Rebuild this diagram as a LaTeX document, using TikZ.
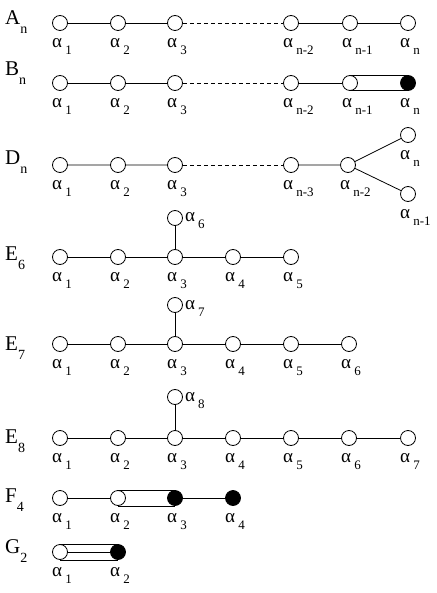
\documentclass[tikz,border=0pt]{standalone}
\usepackage{fontspec}
\setmainfont{Liberation Serif}
\newcommand{\rt}[1]{α\,\raisebox{-7pt}{\fontsize{13}{13}\selectfont #1}}
\newcommand{\typ}[2]{#1\raisebox{-9pt}{\fontsize{14}{14}\selectfont #2}}
\tikzset{
	root/.style={circle,draw,fill=white,minimum size=15pt,inner sep=0pt,line width=0.8pt},
	dark/.style={root,fill=black},
	lab/.style={anchor=north west,xshift=-8pt,yshift=-7pt,inner sep=0pt,font=\fontsize{19}{19}\selectfont},
	labr/.style={anchor=base west,xshift=2pt,yshift=-4pt,inner sep=0pt,font=\fontsize{19}{19}\selectfont},
	typename/.style={anchor=base west,inner sep=0pt,font=\fontsize{21}{21}\selectfont},
	bond/.style={line width=0.8pt},
	gap/.style={bond,dash pattern=on 4pt off 3pt}
}

\begin{document}
\begin{tikzpicture}[x=1pt,y=-1pt]
	\useasboundingbox (0,0) rectangle (436,593);

	% A_n
	\node[typename] (tA) at (5,25) {\typ{A}{n}};
	\node[root,label={[lab]below:\rt{1}}] (a1) at (60,23) {};
	\node[root,label={[lab]below:\rt{2}}] (a2) at (118,23) {};
	\node[root,label={[lab]below:\rt{3}}] (a3) at (175,23) {};
	\node[root,label={[lab]below:\rt{n-2}}] (a4) at (291,23) {};
	\node[root,label={[lab]below:\rt{n-1}}] (a5) at (350,23) {};
	\node[root,label={[lab]below:\rt{n}}] (a6) at (408,23) {};
	\draw[bond] (a1) -- (a2) (a2) -- (a3) (a4) -- (a5) (a5) -- (a6);
	\draw[gap] (a3) -- (a4);

	% B_n
	\node[typename] (tB) at (5,76) {\typ{B}{n}};
	\node[root,label={[lab]below:\rt{1}}] (b1) at (60,83) {};
	\node[root,label={[lab]below:\rt{2}}] (b2) at (118,83) {};
	\node[root,label={[lab]below:\rt{3}}] (b3) at (175,83) {};
	\node[root,label={[lab]below:\rt{n-2}}] (b4) at (291,83) {};
	\node[root,label={[lab]below:\rt{n-1}}] (b5) at (350,83) {};
	\node[dark,label={[lab]below:\rt{n}}] (b6) at (408,83) {};
	\draw[bond] (b1) -- (b2) (b2) -- (b3) (b4) -- (b5);
	\draw[bond] (b5.north) -- (b6.north) (b5.south) -- (b6.south);
	\draw[gap] (b3) -- (b4);

	% D_n
	\node[typename] (tD) at (5,165) {\typ{D}{n}};
	\node[root,label={[lab]below:\rt{1}}] (d1) at (60,165) {};
	\node[root,label={[lab]below:\rt{2}}] (d2) at (118,165) {};
	\node[root,label={[lab]below:\rt{3}}] (d3) at (175,165) {};
	\node[root,label={[lab]below:\rt{n-3}}] (d4) at (291,165) {};
	\node[root,label={[lab]below:\rt{n-2}}] (d5) at (348,165) {};
	\node[root,label={[lab]below:\rt{n}}] (d6) at (408,135) {};
	\node[root,label={[lab]below:\rt{n-1}}] (d7) at (408,194) {};
	\draw[bond] (d1) -- (d2) (d2) -- (d3) (d4) -- (d5) (d5) -- (d6) (d5) -- (d7);
	\draw[gap] (d3) -- (d4);

	% E_6
	\node[typename] (tE6) at (5,260) {\typ{E}{6}};
	\node[root,label={[lab]below:\rt{1}}] (e1) at (60,257) {};
	\node[root,label={[lab]below:\rt{2}}] (e2) at (118,257) {};
	\node[root,label={[lab]below:\rt{3}}] (e3) at (175,257) {};
	\node[root,label={[lab]below:\rt{4}}] (e4) at (233,257) {};
	\node[root,label={[lab]below:\rt{5}}] (e5) at (291,257) {};
	\node[root,label={[labr]right:\rt{6}}] (e6) at (175,218) {};
	\draw[bond] (e1) -- (e2) (e2) -- (e3) (e3) -- (e4) (e4) -- (e5) (e3) -- (e6);

	% E_7
	\node[typename] (tE7) at (5,350) {\typ{E}{7}};
	\node[root,label={[lab]below:\rt{1}}] (f1) at (60,344) {};
	\node[root,label={[lab]below:\rt{2}}] (f2) at (118,344) {};
	\node[root,label={[lab]below:\rt{3}}] (f3) at (175,344) {};
	\node[root,label={[lab]below:\rt{4}}] (f4) at (233,344) {};
	\node[root,label={[lab]below:\rt{5}}] (f5) at (291,344) {};
	\node[root,label={[lab]below:\rt{6}}] (f6) at (349,344) {};
	\node[root,label={[labr]right:\rt{7}}] (f7) at (175,305) {};
	\draw[bond] (f1) -- (f2) (f2) -- (f3) (f3) -- (f4) (f4) -- (f5) (f5) -- (f6) (f3) -- (f7);

	% E_8
	\node[typename] (tE8) at (5,443) {\typ{E}{8}};
	\node[root,label={[lab]below:\rt{1}}] (g1) at (60,438) {};
	\node[root,label={[lab]below:\rt{2}}] (g2) at (118,438) {};
	\node[root,label={[lab]below:\rt{3}}] (g3) at (175,438) {};
	\node[root,label={[lab]below:\rt{4}}] (g4) at (233,438) {};
	\node[root,label={[lab]below:\rt{5}}] (g5) at (291,438) {};
	\node[root,label={[lab]below:\rt{6}}] (g6) at (349,438) {};
	\node[root,label={[lab]below:\rt{7}}] (g7) at (408,438) {};
	\node[root,label={[labr]right:\rt{8}}] (g8) at (175,397) {};
	\draw[bond] (g1) -- (g2) (g2) -- (g3) (g3) -- (g4) (g4) -- (g5) (g5) -- (g6) (g6) -- (g7) (g3) -- (g8);

	% F_4
	\node[typename] (tF) at (5,502) {\typ{F}{4}};
	\node[root,label={[lab]below:\rt{1}}] (h1) at (60,498) {};
	\node[root,label={[lab]below:\rt{2}}] (h2) at (118,498) {};
	\node[dark,label={[lab]below:\rt{3}}] (h3) at (175,498) {};
	\node[dark,label={[lab]below:\rt{4}}] (h4) at (233,498) {};
	\draw[bond] (h1) -- (h2) (h3) -- (h4);
	\draw[bond] (h2.north) -- (h3.north) (h2.south) -- (h3.south);

	% G_2
	\node[typename] (tG) at (5,553) {\typ{G}{2}};
	\node[root,label={[lab]below:\rt{1}}] (k1) at (60,552) {};
	\node[dark,label={[lab]below:\rt{2}}] (k2) at (118,552) {};
	\draw[bond] (k1.north) -- (k2.north) (k1) -- (k2) (k1.south) -- (k2.south);
\end{tikzpicture}
\end{document}
